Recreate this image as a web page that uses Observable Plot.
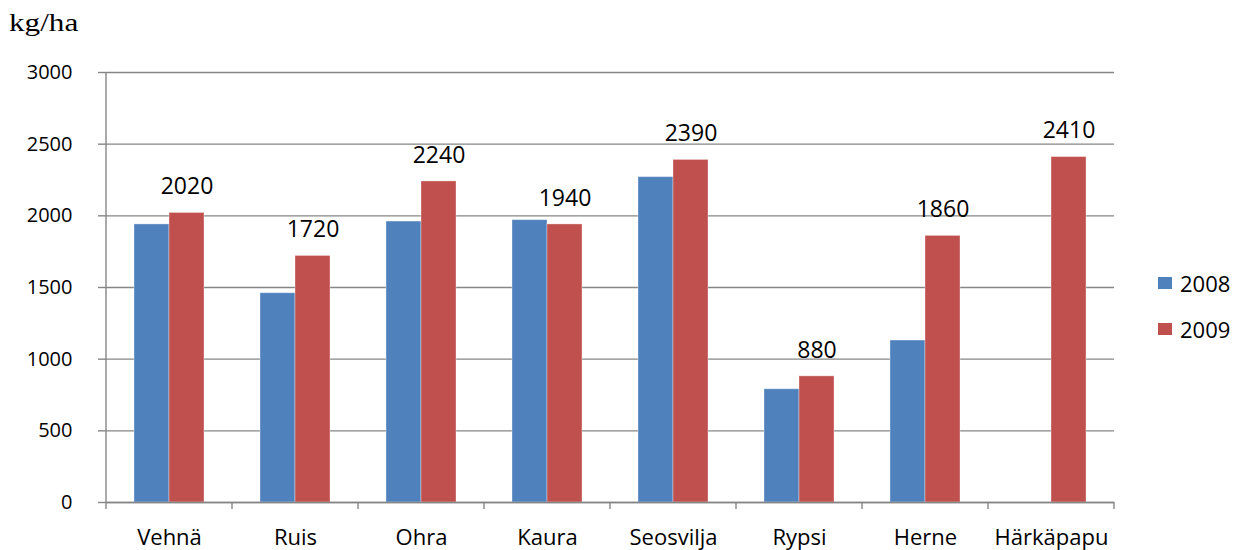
<!DOCTYPE html>
<html>
<head>
<meta charset="utf-8">
<script src="https://cdn.jsdelivr.net/npm/d3@7"></script>
<script src="https://cdn.jsdelivr.net/npm/@observablehq/plot@0.6"></script>
<style>
  html, body { margin: 0; padding: 0; background: #fff; }
  #wrap { position: relative; width: 1240px; height: 550px; overflow: hidden; }
  #unit { position: absolute; left: 9px; top: 10px; font-family: "Liberation Serif", "Times New Roman", serif; font-size: 26px; line-height: 1; transform: scaleX(1.2); transform-origin: left top; color: #000; }
  #legend { position: absolute; left: 1158px; top: 260px; font-family: "Open Sans", sans-serif; font-size: 22px; color: #000; }
  #legend .row { height: 46px; display: flex; align-items: center; }
  #legend .sw { width: 14px; height: 12px; margin-right: 8px; }
  #chart { position: absolute; left: 0; top: 0; }
</style>
</head>
<body>
<div id="wrap">
  <div id="chart"></div>
  <div id="unit">kg/ha</div>
  <div id="legend"></div>
</div>
<script>
const categories = ["Vehnä", "Ruis", "Ohra", "Kaura", "Seosvilja", "Rypsi", "Herne", "Härkäpapu"];
const years = ["2008", "2009"];
const values2008 = [1940, 1460, 1960, 1970, 2270, 790, 1130, null];
const values2009 = [2020, 1720, 2240, 1940, 2390, 880, 1860, 2410];
const yTicks = [0, 500, 1000, 1500, 2000, 2500, 3000];
const colors = ["#4F81BD", "#C0504D"];
const labelYear = "2009";

const rows = categories.flatMap((c, i) => [
  {cat: c, year: years[0], value: values2008[i]},
  {cat: c, year: years[1], value: values2009[i]}
]).filter(d => d.value != null);
const labelRows = rows.filter(d => d.year === labelYear);

const gray = "#868686";

const chart = Plot.plot({
  width: 1240,
  height: 550,
  marginLeft: 105,
  marginRight: 125,
  marginTop: 72,
  marginBottom: 48,
  style: {fontFamily: "'Open Sans', sans-serif", color: "#000", background: "transparent"},
  fx: {domain: categories, padding: 0, label: null},
  x: {domain: years, paddingInner: 0, paddingOuter: 0.753, axis: null},
  y: {domain: [0, 3000], label: null},
  color: {domain: years, range: colors},
  marks: [
    Plot.gridY(yTicks, {stroke: gray, strokeOpacity: 1, strokeWidth: 1.4}),
    Plot.barY(rows, {fx: "cat", x: "year", y: "value", fill: "year", stroke: "#fff", strokeOpacity: 0.35, strokeWidth: 1}),
    Plot.ruleY([0], {stroke: gray, strokeWidth: 1.4}),
    Plot.text(labelRows, {fx: "cat", x: "year", y: "value", text: d => String(d.value), dy: -26, fontSize: 23, fill: "#000"}),
    Plot.axisY(yTicks, {tickSize: 8, tickPadding: 26, stroke: gray, strokeWidth: 1.4, fill: "#000", fontSize: 20, label: null, tickFormat: d => String(d)}),
    Plot.axisFx({anchor: "bottom", tickSize: 0, tickPadding: 27, fontSize: 22, label: null, fill: "#000"})
  ]
});

// Axis lines / category boundary ticks drawn from the plot's own scales
const fx = chart.scale("fx");
const ys = chart.scale("y");
const y0 = ys.apply(0), yTop = ys.apply(3000);
const bounds = categories.map(c => fx.apply(c));
bounds.push(fx.apply(categories[categories.length - 1]) + fx.bandwidth);
const g = d3.select(chart).append("g").attr("stroke", gray).attr("stroke-width", 1.4);
bounds.forEach((bx, i) => {
  g.append("line").attr("x1", bx).attr("x2", bx)
    .attr("y1", i === 0 ? yTop : y0).attr("y2", y0 + 7);
});

document.getElementById("chart").appendChild(chart);

const legend = d3.select("#legend");
years.forEach((yr, i) => {
  const r = legend.append("div").attr("class", "row");
  r.append("div").attr("class", "sw").style("background", colors[i]);
  r.append("span").text(yr);
});
</script>
</body>
</html>
